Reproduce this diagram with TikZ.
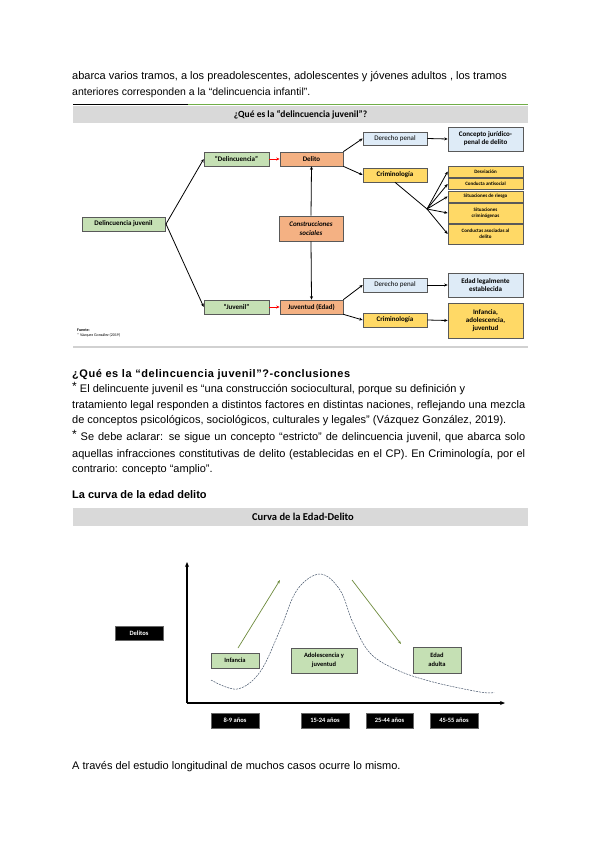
\documentclass[tikz,border=0pt]{standalone}
\usepackage{fontspec}
\setmainfont{Liberation Sans}
\newfontfamily\calfont{Carlito}
\usetikzlibrary{arrows.meta}
\definecolor{bxgreen}{HTML}{C5E0B4}
\definecolor{bxorange}{HTML}{F4B183}
\definecolor{bxblue}{HTML}{DEEBF7}
\definecolor{bxyellow}{HTML}{FFD966}
\definecolor{band}{HTML}{D9D9D9}
\definecolor{topgreen}{HTML}{70AD47}
\definecolor{curvecol}{HTML}{44546A}
\definecolor{arrgreen}{HTML}{6E8B3D}
\tikzset{
  body/.style={anchor=base west, inner sep=0, font=\fontsize{11}{12}\selectfont},
  bodyb/.style={body, font=\fontsize{11}{12}\selectfont\bfseries},
  bx/.style={draw=black!65, line width=0.6pt, inner sep=0.5pt, align=center,
    font=\calfont\bfseries\fontsize{7}{8}\selectfont},
  gbox/.style={bx, fill=bxgreen},
  obox/.style={bx, fill=bxorange},
  lbbox/.style={bx, fill=bxblue},
  ybox/.style={bx, fill=bxyellow},
  ysmall/.style={ybox, font=\calfont\bfseries\fontsize{5}{6}\selectfont},
  blk/.style={fill=black, text=white, inner sep=0, align=center, draw=black!60,
    font=\calfont\bfseries\fontsize{6.5}{7.5}\selectfont},
  con/.style={line width=0.8pt, -{Stealth[length=3.5pt,width=3pt]}},
  redcon/.style={line width=0.9pt, red, -{Stealth[length=3.5pt,width=3pt]}},
  axis/.style={line width=1.3pt, -{Stealth[length=5pt,width=4pt]}},
  garr/.style={line width=0.7pt, arrgreen, -{Stealth[length=3.5pt,width=2.5pt]}},
}
\newcommand{\myast}{\raisebox{1.5pt}{\large *}}
\newcommand{\jline}[2]{\makebox[#1][s]{#2}}
\begin{document}
\begin{tikzpicture}[x=1pt,y=-1pt]
\useasboundingbox[fill=white] (0,0) rectangle (600,848);
% intro text
\node[body] (t1) at (72,80) {abarca varios tramos, a los preadolescentes, adolescentes y jóvenes adultos , los tramos};
\node[body, font=\fontsize{10.5}{12}\selectfont] (t2) at (72,96) {anteriores corresponden a la “delincuencia infantil”.};
% diagram 1 header
\draw[line width=1.5pt, black] (73,104.5) -- (188,104.5);
\draw[line width=1.5pt, topgreen] (188,104.5) -- (528,104.5);
\fill[band] (73,106) rectangle (528,123);
\node[font=\calfont\bfseries\fontsize{9.5}{11}\selectfont, inner sep=0] (h1) at (300.5,114.5) {¿Qué es la “delincuencia juvenil”?};
% nodes
\node[gbox, minimum width=83pt, minimum height=14pt] (dj) at (123.5,224) {Delincuencia juvenil};
\node[gbox, minimum width=65pt, minimum height=14pt] (del) at (236.5,159) {“Delincuencia”};
\node[obox, minimum width=63pt, minimum height=14pt] (delito) at (311.5,159) {Delito};
\node[lbbox, minimum width=64pt, minimum height=13pt, font=\calfont\fontsize{7}{8}\selectfont] (dp1) at (395,138.5) {Derecho penal};
\node[lbbox, minimum width=75pt, minimum height=24pt] (cj) at (485.5,139) {Concepto jurídico-\\penal de delito};
\node[ybox, minimum width=64pt, minimum height=14pt] (crim1) at (395,175) {Criminología};
\node[ysmall, minimum width=75pt, minimum height=11pt] (y1) at (485.5,171.5) {Desviación};
\node[ysmall, minimum width=75pt, minimum height=11pt] (y2) at (485.5,184) {Conducta antisocial};
\node[ysmall, minimum width=75pt, minimum height=11pt] (y3) at (485.5,196.5) {Situaciones de riesgo};
\node[ysmall, minimum width=75pt, minimum height=20pt] (y4) at (485.5,213) {Situaciones\\criminógenas};
\node[ysmall, minimum width=75pt, minimum height=20pt] (y5) at (485.5,234) {Conductas asociadas al\\delito};
\node[obox, minimum width=64pt, minimum height=25pt, font=\calfont\bfseries\itshape\fontsize{7}{9}\selectfont] (cons) at (311,228.5) {Construcciones\\sociales};
\node[gbox, minimum width=65pt, minimum height=14pt] (juv) at (236.5,307) {“Juvenil”};
\node[obox, minimum width=63pt, minimum height=14pt] (juvent) at (311.5,307) {Juventud (Edad)};
\node[lbbox, minimum width=64pt, minimum height=14pt, font=\calfont\fontsize{7}{8}\selectfont] (dp2) at (395,285) {Derecho penal};
\node[lbbox, minimum width=75pt, minimum height=24pt] (edad) at (485.5,285) {Edad legalmente\\establecida};
\node[ybox, minimum width=64pt, minimum height=14pt] (crim2) at (395,320) {Criminología};
\node[ybox, minimum width=75pt, minimum height=35pt] (inf) at (485.5,320.5) {Infancia,\\adolescencia,\\juventud};
\coordinate (djout) at (166,224);
\coordinate (br) at (427,209);
% connectors
\draw[con] (djout) -- (del.west);
\draw[con] (djout) -- (juv.west);
\draw[redcon] (del.east) -- (delito.west);
\draw[redcon] (juv.east) -- (juvent.west);
\draw[con] (cons.north) -- (delito.south);
\draw[con] (cons.south) -- (juvent.north);
\draw[con] (delito.north east) -- (dp1.west);
\draw[con] (delito.south east) -- (crim1.west);
\draw[con] (dp1.east) -- (cj.west);
\draw[line width=0.8pt] (crim1.south) -- (br);
\foreach \n in {y1,y2,y3,y4,y5} \draw[con] (br) -- (\n.west);
\draw[con] (juvent.north east) -- (dp2.west);
\draw[con] (juvent.south east) -- (crim2.west);
\draw[con] (dp2.east) -- (edad.west);
\draw[con] (crim2.east) -- (inf.west);
\node[anchor=north west, inner sep=0, align=left, font=\calfont\fontsize{4}{5}\selectfont] (src) at (77,329) {\textbf{Fuente:}\\* Vázquez González (2019)};
\draw[line width=2pt, black!18] (73,347) -- (528,347);
% conclusions
\node[bodyb] (c0) at (72,377) {\addfontfeature{LetterSpace=5}¿Qué es la “delincuencia juvenil”?-conclusiones};
\node[body] (c1) at (72,392) {\myast\ El delincuente juvenil es “una construcción sociocultural, porque su definición y};
\node[body] (c2) at (72,408) {\jline{453pt}{tratamiento legal responden a distintos factores en distintas naciones, reflejando una mezcla}};
\node[body] (c3) at (72,423) {de conceptos psicológicos, sociológicos, culturales y legales” (Vázquez González, 2019).};
\node[body] (c4) at (72,440) {\jline{453pt}{\myast\ Se debe aclarar: se sigue un concepto “estricto” de delincuencia juvenil, que abarca solo}};
\node[body] (c5) at (72,457) {\jline{453pt}{aquellas infracciones constitutivas de delito (establecidas en el CP). En Criminología, por el}};
\node[body] (c6) at (72,472) {contrario: concepto “amplio”.};
\node[bodyb] (c7) at (72,498) {La curva de la edad delito};
% curve section
\fill[band] (73,508) rectangle (528,526);
\node[font=\calfont\bfseries\fontsize{10.5}{12}\selectfont, inner sep=0] (h2) at (303,517) {Curva de la Edad-Delito};
\coordinate (org) at (187,703);
\coordinate (ytop) at (187,562);
\coordinate (xend) at (505,703);
\draw[axis] (org) -- (ytop);
\draw[axis] (org) -- (xend);
\draw[curvecol, line width=0.5pt, dashed, dash pattern=on 2pt off 1pt] plot[smooth, tension=0.6] coordinates {(211,680) (237,689) (260,672) (280,630) (297,590) (320,574) (340,590) (353,623) (370,653) (397,670) (433,682) (480,692) (494,692.5)};
\coordinate (ga1) at (238,648);
\coordinate (ga2) at (280,580);
\coordinate (gb1) at (352,580);
\coordinate (gb2) at (401,644);
\draw[garr] (ga1) -- (ga2);
\draw[garr] (gb1) -- (gb2);
\node[blk, minimum width=48pt, minimum height=14pt] (dl) at (139,633) {Delitos};
\node[gbox, minimum width=48pt, minimum height=15pt, font=\calfont\bfseries\fontsize{6.5}{7.5}\selectfont] (inf2) at (235,660.5) {Infancia};
\node[gbox, minimum width=66pt, minimum height=25pt, font=\calfont\bfseries\fontsize{6.5}{9}\selectfont] (adol) at (324,660.5) {Adolescencia y\\juventud};
\node[gbox, minimum width=48pt, minimum height=26pt, font=\calfont\bfseries\fontsize{6.5}{9}\selectfont] (adul) at (437,660) {Edad\\adulta};
\node[blk, minimum width=48pt, minimum height=15pt] (a1) at (235,720.5) {8-9 años};
\node[blk, minimum width=48pt, minimum height=15pt] (a2) at (325,720.5) {15-24 años};
\node[blk, minimum width=47pt, minimum height=15pt] (a3) at (389.5,720.5) {25-44 años};
\node[blk, minimum width=48pt, minimum height=15pt] (a4) at (454,720.5) {45-55 años};
\node[body] (last) at (72,769) {A través del estudio longitudinal de muchos casos ocurre lo mismo.};
\end{tikzpicture}
\end{document}
